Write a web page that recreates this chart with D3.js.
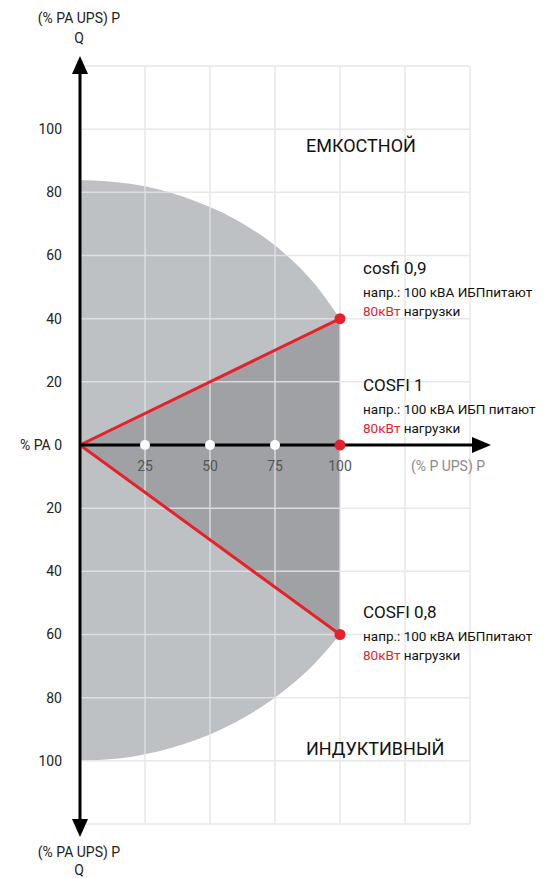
<!DOCTYPE html>
<html><head><meta charset="utf-8">
<script src="https://cdn.jsdelivr.net/npm/d3@7"></script>
<style>
body{margin:0;background:#fff;}
svg text{font-family:"Roboto","Liberation Sans",sans-serif;}
</style></head>
<body><svg id="c" width="550" height="878"></svg>
<script>
// Data
const xTicks = [25, 50, 75, 100];
const xGrid = [25, 50, 75, 100, 125, 150];
const yTicksPos = [20, 40, 60, 80, 100];
const yTicksNeg = [-20, -40, -60, -80, -100];
const yGrid = [-120, -100, -80, -60, -40, -20, 20, 40, 60, 80, 100, 120];
// capacitive boundary (upper) and inductive boundary (lower)
const boundP = [0, 20, 40, 60, 80, 90, 100];
const upperQ = [83.9, 82.6, 78.5, 71.3, 59.7, 51.3, 40];
const lowerQ = [-100, -98.7, -94.7, -87.7, -76.8, -69.4, -60];
const cosPoints = [
  {name: "cosfi 0,9", p: 100, q: 40},
  {name: "COSFI 1", p: 100, q: 0},
  {name: "COSFI 0,8", p: 100, q: -60}
];
const whiteDots = [25, 50, 75];

const svg = d3.select("#c");
const x = d3.scaleLinear().domain([0, 150]).range([80, 470]);
const y = d3.scaleLinear().domain([-120, 120]).range([824, 66]);

const light = "#bdc1c4", dark = "#9fa1a5", red = "#e5222b", grid = "#e3e5e7";

const upperPts = boundP.map((p, i) => [p, upperQ[i]]);
const lowerPts = boundP.map((p, i) => [p, lowerQ[i]]).reverse();
const lineGen = d3.line().x(d => x(d[0])).y(d => y(d[1])).curve(d3.curveMonotoneX);
svg.append("path")
  .attr("d", lineGen(upperPts) + "L" + lineGen(lowerPts).slice(1) + "Z")
  .attr("fill", light);

const tri = [[0, 0], [cosPoints[0].p, cosPoints[0].q], [cosPoints[2].p, cosPoints[2].q]];
svg.append("path")
  .attr("d", d3.line().x(d => x(d[0])).y(d => y(d[1]))(tri) + "Z")
  .attr("fill", dark);

const g = svg.append("g").attr("stroke", grid).attr("stroke-width", 1.5).attr("opacity", 0.85);
xGrid.forEach(v => g.append("line").attr("x1", x(v)).attr("x2", x(v)).attr("y1", y(120)).attr("y2", y(-120)));
yGrid.forEach(v => g.append("line").attr("x1", x(0)).attr("x2", x(150)).attr("y1", y(v)).attr("y2", y(v)));

[cosPoints[0], cosPoints[2]].forEach(c => {
  svg.append("line").attr("x1", x(0)).attr("y1", y(0)).attr("x2", x(c.p)).attr("y2", y(c.q))
    .attr("stroke", red).attr("stroke-width", 3);
});

svg.append("line").attr("x1", x(0)).attr("x2", x(0)).attr("y1", 70).attr("y2", 822)
  .attr("stroke", "#000").attr("stroke-width", 3);
svg.append("path").attr("d", `M${x(0)},56 L${x(0)-8},74 L${x(0)+8},74Z`).attr("fill", "#000");
svg.append("path").attr("d", `M${x(0)},837 L${x(0)-8},819 L${x(0)+8},819Z`).attr("fill", "#000");
svg.append("line").attr("x1", x(0)).attr("x2", 476).attr("y1", y(0)).attr("y2", y(0))
  .attr("stroke", "#000").attr("stroke-width", 3);
svg.append("path").attr("d", `M491,${y(0)} L472,${y(0)-8} L472,${y(0)+8}Z`).attr("fill", "#000");

whiteDots.forEach(v => svg.append("circle").attr("cx", x(v)).attr("cy", y(0)).attr("r", 5).attr("fill", "#fff"));
cosPoints.forEach(c => svg.append("circle").attr("cx", x(c.p)).attr("cy", y(c.q)).attr("r", 5.5).attr("fill", red));

const fs = 14;
yTicksPos.concat(yTicksNeg).forEach(v => {
  svg.append("text").attr("x", 62).attr("y", y(v)).attr("dy", "0.35em")
    .attr("text-anchor", "end").attr("font-size", fs).attr("fill", "#222").text(Math.abs(v));
});
svg.append("text").attr("x", 62).attr("y", y(0)).attr("dy", "0.35em")
  .attr("text-anchor", "end").attr("font-size", fs).attr("fill", "#222").text("% PA  0");
xTicks.forEach(v => {
  svg.append("text").attr("x", x(v)).attr("y", 471).attr("text-anchor", "middle")
    .attr("font-size", fs).attr("fill", "#555").text(v);
});
svg.append("text").attr("x", 448).attr("y", 471).attr("text-anchor", "middle")
  .attr("font-size", fs).attr("fill", "#8a8a8a").text("(% P UPS) P");

[[23, 43], [857, 875]].forEach(([a, b]) => {
  svg.append("text").attr("x", 79).attr("y", a).attr("text-anchor", "middle").attr("font-size", fs).attr("fill", "#222").text("(% PA UPS) P");
  svg.append("text").attr("x", 79).attr("y", b).attr("text-anchor", "middle").attr("font-size", fs).attr("fill", "#222").text("Q");
});

svg.append("text").attr("x", 306).attr("y", 152).attr("font-size", 18).attr("fill", "#111").text("ЕМКОСТНОЙ");
svg.append("text").attr("x", 306).attr("y", 755).attr("font-size", 18).attr("fill", "#111").text("ИНДУКТИВНЫЙ");

const ann = [
  {t: "cosfi 0,9", l2: "напр.: 100 кВА ИБПпитают", y0: 274},
  {t: "COSFI 1", l2: "напр.: 100 кВА ИБП питают", y0: 391},
  {t: "COSFI 0,8", l2: "напр.: 100 кВА ИБПпитают", y0: 618}
];
ann.forEach(a => {
  svg.append("text").attr("x", 363).attr("y", a.y0).attr("font-size", 17).attr("fill", "#111").text(a.t);
  svg.append("text").attr("x", 363).attr("y", a.y0 + 23).attr("font-size", 13.5).attr("fill", "#111").text(a.l2);
  const t3 = svg.append("text").attr("x", 363).attr("y", a.y0 + 42).attr("font-size", 13.5).attr("fill", "#111");
  t3.append("tspan").attr("fill", red).text("80кВт");
  t3.append("tspan").text(" нагрузки");
});
</script></body></html>
